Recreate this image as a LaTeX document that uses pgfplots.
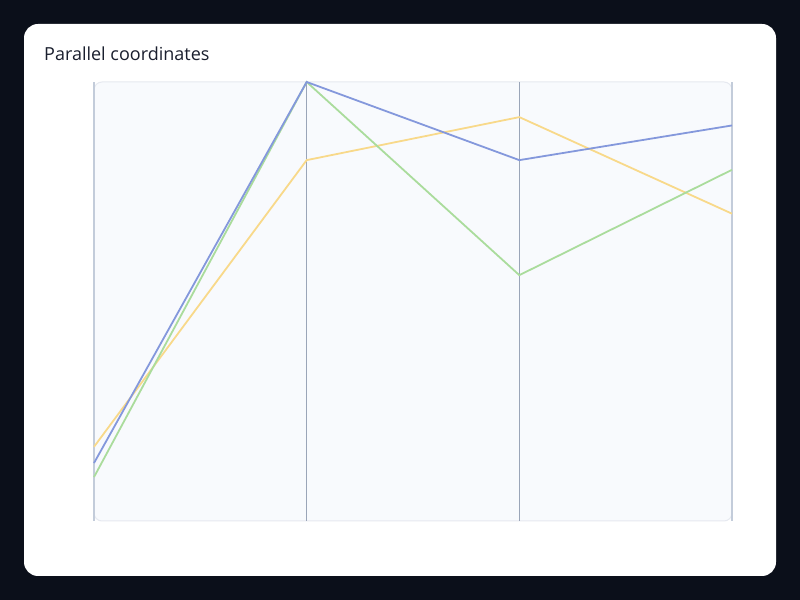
\documentclass[border=0pt]{standalone}
\usepackage{pgfplots}
\pgfplotsset{compat=1.18}
\usepackage{fontspec}
\setmainfont{Open Sans}
\definecolor{bgdark}{HTML}{0B0F1A}
\definecolor{plotbg}{HTML}{F8FAFD}
\definecolor{plotborder}{HTML}{E6E9F0}
\definecolor{axinner}{HTML}{9AA5B8}
\definecolor{axouter}{HTML}{C3CCDA}
\definecolor{serblue}{HTML}{8498DC}
\definecolor{seryellow}{HTML}{F8D98A}
\definecolor{sergreen}{HTML}{AADC9C}
\definecolor{titlecol}{HTML}{1A1F2E}
\begin{document}
\begin{tikzpicture}[x=1bp,y=1bp]
\useasboundingbox (0,0) rectangle (800,600);
\fill[bgdark] (0,0) rectangle (800,600);
\fill[white,rounded corners=14bp] (24,24) rectangle (776,576);
\draw[plotborder,fill=plotbg,line width=1bp,rounded corners=8bp] (94,79) rectangle (732,518);
\node[anchor=base west,text=titlecol,font=\fontsize{18bp}{21bp}\selectfont,inner sep=0pt] at (44,539) {Parallel coordinates};
\begin{axis}[
  at={(94bp,79bp)}, anchor=origin,
  scale only axis, width=638bp, height=439bp,
  xmin=0, xmax=3, ymin=0, ymax=1,
  axis line style={draw=none},
  xtick={1,2}, ytick=\empty,
  xticklabels={}, major tick length=0pt,
  xmajorgrids, major grid style={axinner,line width=1bp},
  extra x ticks={0,3}, extra x tick labels={},
  extra x tick style={major grid style={axouter,line width=2bp}},
  clip=false,
]
\addplot[seryellow,line width=1.8bp] coordinates {(0,0.169) (1,0.822) (2,0.920) (3,0.700)};
\addplot[sergreen,line width=1.8bp] coordinates {(0,0.100) (1,1) (2,0.560) (3,0.800)};
\addplot[serblue,line width=1.8bp] coordinates {(0,0.132) (1,1) (2,0.822) (3,0.901)};
\end{axis}
\end{tikzpicture}
\end{document}
